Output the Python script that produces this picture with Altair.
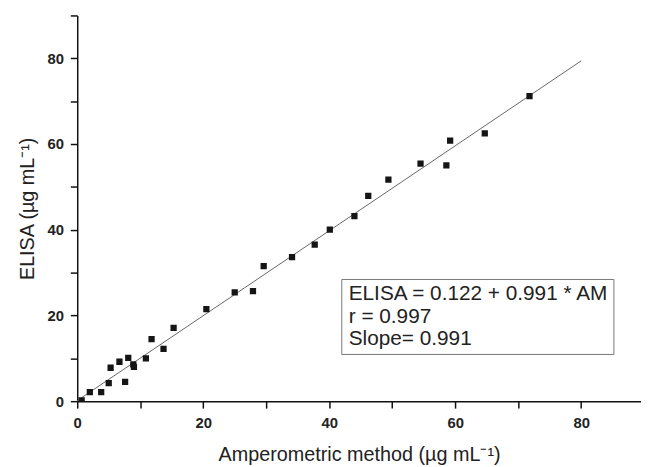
import altair as alt
import pandas as pd

# Measured data (Amperometric method vs ELISA), µg/mL
am_values = [0.7, 2.0, 3.8, 5.0, 5.3, 6.7, 7.6, 8.1, 8.9, 9.0, 10.9, 11.8, 13.7, 15.3,
             20.5, 25.0, 27.9, 29.6, 34.1, 37.7, 40.1, 44.0, 46.2, 49.4, 54.5, 58.6,
             59.2, 64.7, 71.8]
elisa_values = [0.2, 2.1, 2.1, 4.2, 7.8, 9.2, 4.5, 10.1, 8.6, 8.0, 10.0, 14.5, 12.2, 17.1,
                21.5, 25.4, 25.7, 31.5, 33.6, 36.5, 40.0, 43.2, 47.9, 51.7, 55.4, 55.0,
                60.8, 62.5, 71.2]

# Regression reported on the chart
intercept = 0.122
slope = 0.991
fit_x = [0, 80]

# Annotation box (data coordinates) and its text lines
box_x = [42.0]
box_x2 = [85.2]
box_y = [10.9]
box_y2 = [28.4]
note_lines = ["ELISA = 0.122 + 0.991 * AM", "r = 0.997", "Slope= 0.991"]
note_y = [24.9, 19.6, 14.4]
note_x = 43.1

x_ticks = [0, 10, 20, 30, 40, 50, 60, 70, 80]
y_ticks = [0, 10, 20, 30, 40, 50, 60, 70, 80, 90]

pts = pd.DataFrame({"am": am_values, "elisa": elisa_values})
fit = pd.DataFrame({"am": fit_x, "elisa": [intercept + slope * v for v in fit_x]})
box = pd.DataFrame({"x": box_x, "x2": box_x2, "y": box_y, "y2": box_y2})
notes = pd.DataFrame({"x": [note_x] * 3, "y": note_y, "t": note_lines})

xs = alt.Scale(domain=[0, 89.5], nice=False, zero=False)
ys = alt.Scale(domain=[0, 90], nice=False, zero=False)

label_expr = "datum.value % 20 == 0 ? datum.label : ''"

x_axis = alt.Axis(title="Amperometric method (µg mL⁻¹)", values=x_ticks, labelExpr=label_expr,
                  grid=False, tickSize=7, labelPadding=8, titlePadding=14,
                  labelFontSize=15, labelFontWeight="bold", titleFontSize=20,
                  titleFontWeight="normal", labelFlush=False)
y_axis = alt.Axis(title="ELISA (µg mL⁻¹)", values=y_ticks, labelExpr=label_expr,
                  grid=False, tickSize=7, labelPadding=7, titlePadding=10,
                  labelFontSize=15, labelFontWeight="bold", titleFontSize=20,
                  titleFontWeight="normal", labelFlush=False)

line = alt.Chart(fit).mark_line(color="#666666", strokeWidth=1).encode(
    x=alt.X("am:Q", scale=xs, axis=x_axis),
    y=alt.Y("elisa:Q", scale=ys, axis=y_axis),
)

points = alt.Chart(pts).mark_square(size=40, color="#151515", opacity=1, clip=True).encode(
    x=alt.X("am:Q", scale=xs),
    y=alt.Y("elisa:Q", scale=ys),
)

rect = alt.Chart(box).mark_rect(fill="white", stroke="#777777", strokeWidth=1).encode(
    x=alt.X("x:Q", scale=xs), x2="x2:Q",
    y=alt.Y("y:Q", scale=ys), y2="y2:Q",
)

text = alt.Chart(notes).mark_text(align="left", baseline="middle", fontSize=21,
                                  color="#222222", font="Liberation Sans").encode(
    x=alt.X("x:Q", scale=xs),
    y=alt.Y("y:Q", scale=ys),
    text="t:N",
)

chart = alt.layer(line, points, rect, text).properties(
    width=570, height=390,
    autosize=alt.AutoSizeParams(type="none"),
    padding={"left": 70, "top": 5, "right": 0, "bottom": 62},
).configure_view(stroke=None).configure_axis(
    domainColor="#111111", domainWidth=1.5, tickColor="#111111", tickWidth=1.5,
    labelColor="#222222", titleColor="#222222", labelFont="Liberation Sans",
    titleFont="Liberation Sans",
)

chart.save("out.html", embed_options={"renderer": "svg", "actions": False})
